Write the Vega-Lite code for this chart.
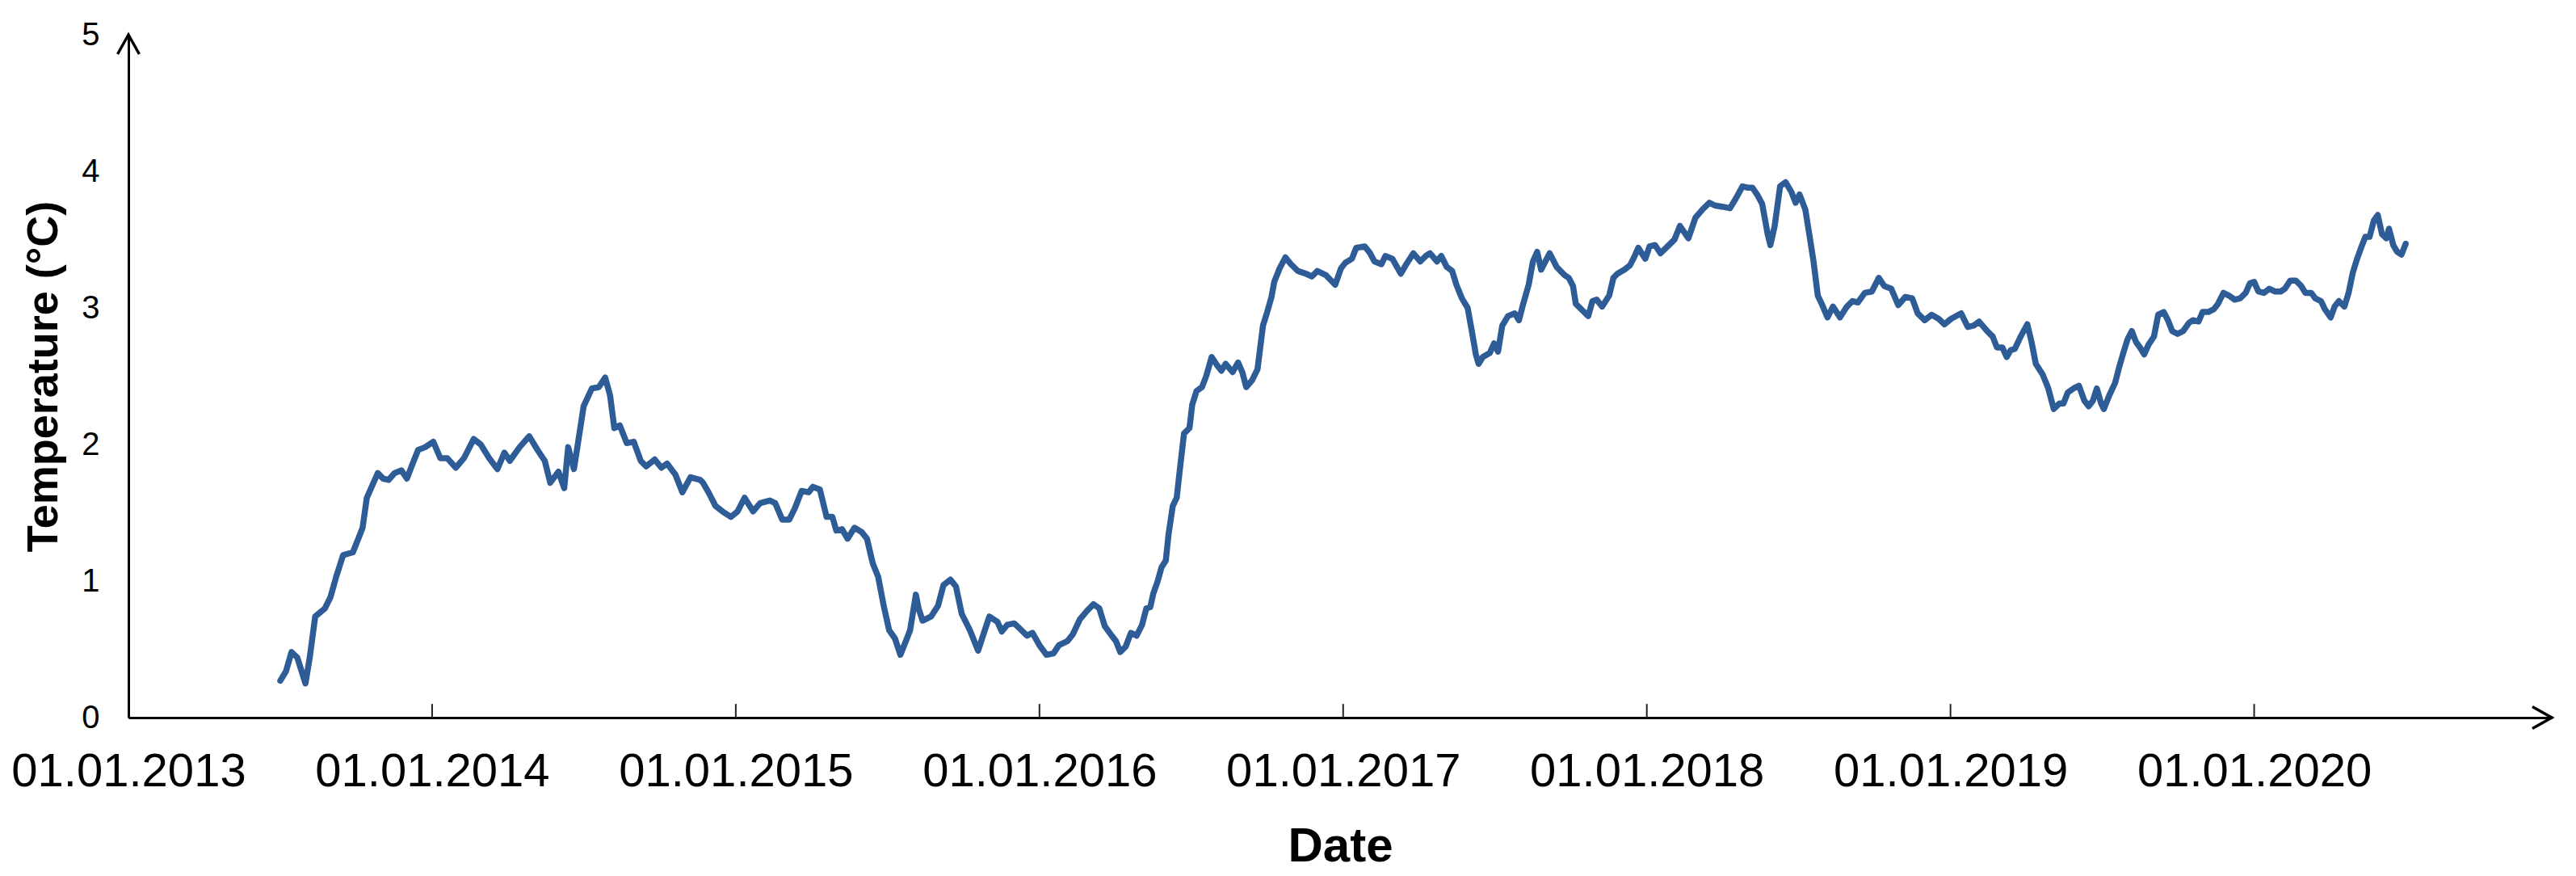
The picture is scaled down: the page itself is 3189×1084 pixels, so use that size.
{
  "$schema": "https://vega.github.io/schema/vega-lite/v6.json",
  "width": 3000,
  "height": 845,
  "autosize": {"type": "none"},
  "padding": {"left": 159, "top": 43, "right": 30, "bottom": 196},
  "background": "white",
  "config": {"view": {"stroke": null}, "font": "Liberation Sans"},
  "datasets": {
    "series": [
      {"decimal_year": 2013.500, "temp": 0.27}, {"decimal_year": 2013.519, "temp": 0.34}, {"decimal_year": 2013.537, "temp": 0.48}, {"decimal_year": 2013.556, "temp": 0.44},
      {"decimal_year": 2013.583, "temp": 0.25}, {"decimal_year": 2013.597, "temp": 0.44}, {"decimal_year": 2013.615, "temp": 0.74}, {"decimal_year": 2013.647, "temp": 0.80},
      {"decimal_year": 2013.665, "temp": 0.88}, {"decimal_year": 2013.684, "temp": 1.03}, {"decimal_year": 2013.707, "temp": 1.19}, {"decimal_year": 2013.739, "temp": 1.21},
      {"decimal_year": 2013.757, "temp": 1.31}, {"decimal_year": 2013.771, "temp": 1.39}, {"decimal_year": 2013.785, "temp": 1.61}, {"decimal_year": 2013.803, "temp": 1.70},
      {"decimal_year": 2013.821, "temp": 1.79}, {"decimal_year": 2013.839, "temp": 1.75}, {"decimal_year": 2013.857, "temp": 1.74}, {"decimal_year": 2013.876, "temp": 1.79},
      {"decimal_year": 2013.899, "temp": 1.81}, {"decimal_year": 2013.917, "temp": 1.75}, {"decimal_year": 2013.936, "temp": 1.86}, {"decimal_year": 2013.954, "temp": 1.96},
      {"decimal_year": 2013.977, "temp": 1.98}, {"decimal_year": 2014.004, "temp": 2.02}, {"decimal_year": 2014.027, "temp": 1.90}, {"decimal_year": 2014.050, "temp": 1.90},
      {"decimal_year": 2014.078, "temp": 1.83}, {"decimal_year": 2014.105, "temp": 1.90}, {"decimal_year": 2014.137, "temp": 2.04}, {"decimal_year": 2014.160, "temp": 2.00},
      {"decimal_year": 2014.188, "temp": 1.90}, {"decimal_year": 2014.215, "temp": 1.82}, {"decimal_year": 2014.238, "temp": 1.94}, {"decimal_year": 2014.256, "temp": 1.88},
      {"decimal_year": 2014.288, "temp": 1.98}, {"decimal_year": 2014.320, "temp": 2.06}, {"decimal_year": 2014.347, "temp": 1.96}, {"decimal_year": 2014.371, "temp": 1.88},
      {"decimal_year": 2014.389, "temp": 1.72}, {"decimal_year": 2014.416, "temp": 1.80}, {"decimal_year": 2014.435, "temp": 1.68}, {"decimal_year": 2014.448, "temp": 1.98},
      {"decimal_year": 2014.467, "temp": 1.82}, {"decimal_year": 2014.481, "temp": 2.02}, {"decimal_year": 2014.499, "temp": 2.28}, {"decimal_year": 2014.526, "temp": 2.41},
      {"decimal_year": 2014.549, "temp": 2.42}, {"decimal_year": 2014.570, "temp": 2.49}, {"decimal_year": 2014.586, "temp": 2.36}, {"decimal_year": 2014.600, "temp": 2.12},
      {"decimal_year": 2014.618, "temp": 2.14}, {"decimal_year": 2014.641, "temp": 2.01}, {"decimal_year": 2014.664, "temp": 2.02}, {"decimal_year": 2014.687, "temp": 1.88},
      {"decimal_year": 2014.705, "temp": 1.84}, {"decimal_year": 2014.733, "temp": 1.89}, {"decimal_year": 2014.755, "temp": 1.83}, {"decimal_year": 2014.774, "temp": 1.86},
      {"decimal_year": 2014.801, "temp": 1.78}, {"decimal_year": 2014.824, "temp": 1.65}, {"decimal_year": 2014.851, "temp": 1.76}, {"decimal_year": 2014.883, "temp": 1.74},
      {"decimal_year": 2014.892, "temp": 1.72}, {"decimal_year": 2014.910, "temp": 1.65}, {"decimal_year": 2014.933, "temp": 1.55}, {"decimal_year": 2014.956, "temp": 1.51},
      {"decimal_year": 2014.984, "temp": 1.47}, {"decimal_year": 2015.006, "temp": 1.51}, {"decimal_year": 2015.029, "temp": 1.61}, {"decimal_year": 2015.057, "temp": 1.51},
      {"decimal_year": 2015.080, "temp": 1.57}, {"decimal_year": 2015.112, "temp": 1.59}, {"decimal_year": 2015.130, "temp": 1.57}, {"decimal_year": 2015.153, "temp": 1.45},
      {"decimal_year": 2015.176, "temp": 1.45}, {"decimal_year": 2015.194, "temp": 1.53}, {"decimal_year": 2015.217, "temp": 1.66}, {"decimal_year": 2015.240, "temp": 1.65},
      {"decimal_year": 2015.254, "temp": 1.69}, {"decimal_year": 2015.277, "temp": 1.67}, {"decimal_year": 2015.299, "temp": 1.47}, {"decimal_year": 2015.318, "temp": 1.47},
      {"decimal_year": 2015.331, "temp": 1.37}, {"decimal_year": 2015.350, "temp": 1.38}, {"decimal_year": 2015.368, "temp": 1.31}, {"decimal_year": 2015.391, "temp": 1.39},
      {"decimal_year": 2015.414, "temp": 1.36}, {"decimal_year": 2015.432, "temp": 1.31}, {"decimal_year": 2015.451, "temp": 1.13}, {"decimal_year": 2015.469, "temp": 1.03},
      {"decimal_year": 2015.487, "temp": 0.82}, {"decimal_year": 2015.505, "temp": 0.64}, {"decimal_year": 2015.524, "temp": 0.58}, {"decimal_year": 2015.542, "temp": 0.46},
      {"decimal_year": 2015.560, "temp": 0.56}, {"decimal_year": 2015.574, "temp": 0.64}, {"decimal_year": 2015.593, "temp": 0.90}, {"decimal_year": 2015.602, "temp": 0.80},
      {"decimal_year": 2015.615, "temp": 0.71}, {"decimal_year": 2015.643, "temp": 0.74}, {"decimal_year": 2015.666, "temp": 0.82}, {"decimal_year": 2015.684, "temp": 0.97},
      {"decimal_year": 2015.707, "temp": 1.01}, {"decimal_year": 2015.725, "temp": 0.96}, {"decimal_year": 2015.744, "temp": 0.76}, {"decimal_year": 2015.771, "temp": 0.64},
      {"decimal_year": 2015.798, "temp": 0.49}, {"decimal_year": 2015.817, "temp": 0.62}, {"decimal_year": 2015.835, "temp": 0.74}, {"decimal_year": 2015.862, "temp": 0.70},
      {"decimal_year": 2015.876, "temp": 0.63}, {"decimal_year": 2015.894, "temp": 0.68}, {"decimal_year": 2015.917, "temp": 0.69}, {"decimal_year": 2015.936, "temp": 0.65},
      {"decimal_year": 2015.959, "temp": 0.60}, {"decimal_year": 2015.977, "temp": 0.62}, {"decimal_year": 2016.000, "temp": 0.53}, {"decimal_year": 2016.023, "temp": 0.46},
      {"decimal_year": 2016.046, "temp": 0.47}, {"decimal_year": 2016.064, "temp": 0.53}, {"decimal_year": 2016.092, "temp": 0.56}, {"decimal_year": 2016.110, "temp": 0.61},
      {"decimal_year": 2016.133, "temp": 0.72}, {"decimal_year": 2016.156, "temp": 0.78}, {"decimal_year": 2016.178, "temp": 0.83}, {"decimal_year": 2016.197, "temp": 0.80},
      {"decimal_year": 2016.215, "temp": 0.67}, {"decimal_year": 2016.238, "temp": 0.60}, {"decimal_year": 2016.252, "temp": 0.56}, {"decimal_year": 2016.266, "temp": 0.48},
      {"decimal_year": 2016.284, "temp": 0.52}, {"decimal_year": 2016.301, "temp": 0.62}, {"decimal_year": 2016.320, "temp": 0.60}, {"decimal_year": 2016.338, "temp": 0.68},
      {"decimal_year": 2016.352, "temp": 0.80}, {"decimal_year": 2016.365, "temp": 0.81}, {"decimal_year": 2016.375, "temp": 0.91}, {"decimal_year": 2016.388, "temp": 0.99},
      {"decimal_year": 2016.402, "temp": 1.10}, {"decimal_year": 2016.416, "temp": 1.15}, {"decimal_year": 2016.425, "temp": 1.34}, {"decimal_year": 2016.439, "temp": 1.55},
      {"decimal_year": 2016.452, "temp": 1.61}, {"decimal_year": 2016.462, "temp": 1.81}, {"decimal_year": 2016.476, "temp": 2.08}, {"decimal_year": 2016.494, "temp": 2.12},
      {"decimal_year": 2016.503, "temp": 2.29}, {"decimal_year": 2016.517, "temp": 2.39}, {"decimal_year": 2016.535, "temp": 2.42}, {"decimal_year": 2016.549, "temp": 2.50},
      {"decimal_year": 2016.567, "temp": 2.64}, {"decimal_year": 2016.585, "temp": 2.58}, {"decimal_year": 2016.599, "temp": 2.54}, {"decimal_year": 2016.613, "temp": 2.59},
      {"decimal_year": 2016.636, "temp": 2.53}, {"decimal_year": 2016.654, "temp": 2.60}, {"decimal_year": 2016.668, "temp": 2.53}, {"decimal_year": 2016.681, "temp": 2.42},
      {"decimal_year": 2016.700, "temp": 2.47}, {"decimal_year": 2016.718, "temp": 2.55}, {"decimal_year": 2016.727, "temp": 2.71}, {"decimal_year": 2016.736, "temp": 2.87},
      {"decimal_year": 2016.750, "temp": 2.97}, {"decimal_year": 2016.764, "temp": 3.08}, {"decimal_year": 2016.773, "temp": 3.19}, {"decimal_year": 2016.791, "temp": 3.29},
      {"decimal_year": 2016.810, "temp": 3.37}, {"decimal_year": 2016.828, "temp": 3.32}, {"decimal_year": 2016.851, "temp": 3.27}, {"decimal_year": 2016.878, "temp": 3.25},
      {"decimal_year": 2016.897, "temp": 3.23}, {"decimal_year": 2016.915, "temp": 3.27}, {"decimal_year": 2016.943, "temp": 3.24}, {"decimal_year": 2016.974, "temp": 3.17},
      {"decimal_year": 2016.993, "temp": 3.29}, {"decimal_year": 2017.007, "temp": 3.33}, {"decimal_year": 2017.029, "temp": 3.36}, {"decimal_year": 2017.043, "temp": 3.44},
      {"decimal_year": 2017.071, "temp": 3.45}, {"decimal_year": 2017.089, "temp": 3.40}, {"decimal_year": 2017.103, "temp": 3.34}, {"decimal_year": 2017.126, "temp": 3.32},
      {"decimal_year": 2017.139, "temp": 3.38}, {"decimal_year": 2017.162, "temp": 3.36}, {"decimal_year": 2017.190, "temp": 3.25}, {"decimal_year": 2017.208, "temp": 3.32},
      {"decimal_year": 2017.231, "temp": 3.40}, {"decimal_year": 2017.254, "temp": 3.34}, {"decimal_year": 2017.272, "temp": 3.38}, {"decimal_year": 2017.286, "temp": 3.40},
      {"decimal_year": 2017.309, "temp": 3.34}, {"decimal_year": 2017.323, "temp": 3.38}, {"decimal_year": 2017.341, "temp": 3.30}, {"decimal_year": 2017.359, "temp": 3.27},
      {"decimal_year": 2017.373, "temp": 3.17}, {"decimal_year": 2017.391, "temp": 3.07}, {"decimal_year": 2017.410, "temp": 3.00}, {"decimal_year": 2017.423, "temp": 2.84},
      {"decimal_year": 2017.437, "temp": 2.66}, {"decimal_year": 2017.446, "temp": 2.59}, {"decimal_year": 2017.460, "temp": 2.64}, {"decimal_year": 2017.483, "temp": 2.67},
      {"decimal_year": 2017.497, "temp": 2.74}, {"decimal_year": 2017.510, "temp": 2.68}, {"decimal_year": 2017.524, "temp": 2.87}, {"decimal_year": 2017.543, "temp": 2.94},
      {"decimal_year": 2017.565, "temp": 2.96}, {"decimal_year": 2017.579, "temp": 2.91}, {"decimal_year": 2017.593, "temp": 3.03}, {"decimal_year": 2017.611, "temp": 3.17},
      {"decimal_year": 2017.625, "temp": 3.34}, {"decimal_year": 2017.639, "temp": 3.41}, {"decimal_year": 2017.652, "temp": 3.28}, {"decimal_year": 2017.666, "temp": 3.34},
      {"decimal_year": 2017.680, "temp": 3.40}, {"decimal_year": 2017.703, "temp": 3.30}, {"decimal_year": 2017.729, "temp": 3.24}, {"decimal_year": 2017.743, "temp": 3.22},
      {"decimal_year": 2017.757, "temp": 3.16}, {"decimal_year": 2017.766, "temp": 3.03}, {"decimal_year": 2017.784, "temp": 2.99}, {"decimal_year": 2017.807, "temp": 2.94},
      {"decimal_year": 2017.821, "temp": 3.05}, {"decimal_year": 2017.835, "temp": 3.06}, {"decimal_year": 2017.853, "temp": 3.01}, {"decimal_year": 2017.876, "temp": 3.09},
      {"decimal_year": 2017.890, "temp": 3.22}, {"decimal_year": 2017.903, "temp": 3.25}, {"decimal_year": 2017.926, "temp": 3.28}, {"decimal_year": 2017.944, "temp": 3.31},
      {"decimal_year": 2017.958, "temp": 3.37}, {"decimal_year": 2017.972, "temp": 3.44}, {"decimal_year": 2017.995, "temp": 3.36}, {"decimal_year": 2018.009, "temp": 3.45},
      {"decimal_year": 2018.027, "temp": 3.46}, {"decimal_year": 2018.045, "temp": 3.40}, {"decimal_year": 2018.068, "temp": 3.45}, {"decimal_year": 2018.091, "temp": 3.50},
      {"decimal_year": 2018.109, "temp": 3.60}, {"decimal_year": 2018.137, "temp": 3.51}, {"decimal_year": 2018.160, "temp": 3.66}, {"decimal_year": 2018.183, "temp": 3.72},
      {"decimal_year": 2018.206, "temp": 3.77}, {"decimal_year": 2018.224, "temp": 3.75}, {"decimal_year": 2018.251, "temp": 3.74}, {"decimal_year": 2018.274, "temp": 3.73},
      {"decimal_year": 2018.293, "temp": 3.80}, {"decimal_year": 2018.315, "temp": 3.89}, {"decimal_year": 2018.334, "temp": 3.88}, {"decimal_year": 2018.348, "temp": 3.88},
      {"decimal_year": 2018.366, "temp": 3.82}, {"decimal_year": 2018.380, "temp": 3.76}, {"decimal_year": 2018.398, "temp": 3.54}, {"decimal_year": 2018.407, "temp": 3.46},
      {"decimal_year": 2018.421, "temp": 3.60}, {"decimal_year": 2018.439, "temp": 3.89}, {"decimal_year": 2018.457, "temp": 3.92}, {"decimal_year": 2018.476, "temp": 3.85},
      {"decimal_year": 2018.490, "temp": 3.77}, {"decimal_year": 2018.503, "temp": 3.83}, {"decimal_year": 2018.522, "temp": 3.72}, {"decimal_year": 2018.535, "temp": 3.54},
      {"decimal_year": 2018.549, "temp": 3.34}, {"decimal_year": 2018.563, "temp": 3.09}, {"decimal_year": 2018.576, "temp": 3.03}, {"decimal_year": 2018.595, "temp": 2.93},
      {"decimal_year": 2018.613, "temp": 3.01}, {"decimal_year": 2018.636, "temp": 2.93}, {"decimal_year": 2018.659, "temp": 3.01}, {"decimal_year": 2018.677, "temp": 3.05},
      {"decimal_year": 2018.695, "temp": 3.04}, {"decimal_year": 2018.718, "temp": 3.11}, {"decimal_year": 2018.741, "temp": 3.12}, {"decimal_year": 2018.764, "temp": 3.22},
      {"decimal_year": 2018.782, "temp": 3.16}, {"decimal_year": 2018.805, "temp": 3.14}, {"decimal_year": 2018.828, "temp": 3.02}, {"decimal_year": 2018.851, "temp": 3.08},
      {"decimal_year": 2018.874, "temp": 3.07}, {"decimal_year": 2018.892, "temp": 2.96}, {"decimal_year": 2018.915, "temp": 2.91}, {"decimal_year": 2018.938, "temp": 2.95},
      {"decimal_year": 2018.961, "temp": 2.92}, {"decimal_year": 2018.980, "temp": 2.88}, {"decimal_year": 2019.002, "temp": 2.92}, {"decimal_year": 2019.035, "temp": 2.96},
      {"decimal_year": 2019.057, "temp": 2.86}, {"decimal_year": 2019.076, "temp": 2.87}, {"decimal_year": 2019.094, "temp": 2.90}, {"decimal_year": 2019.121, "temp": 2.83},
      {"decimal_year": 2019.139, "temp": 2.79}, {"decimal_year": 2019.153, "temp": 2.71}, {"decimal_year": 2019.171, "temp": 2.71}, {"decimal_year": 2019.185, "temp": 2.64},
      {"decimal_year": 2019.198, "temp": 2.69}, {"decimal_year": 2019.212, "temp": 2.70}, {"decimal_year": 2019.231, "temp": 2.79}, {"decimal_year": 2019.253, "temp": 2.88},
      {"decimal_year": 2019.267, "temp": 2.75}, {"decimal_year": 2019.281, "temp": 2.59}, {"decimal_year": 2019.304, "temp": 2.51}, {"decimal_year": 2019.322, "temp": 2.41},
      {"decimal_year": 2019.340, "temp": 2.26}, {"decimal_year": 2019.359, "temp": 2.30}, {"decimal_year": 2019.372, "temp": 2.30}, {"decimal_year": 2019.386, "temp": 2.38},
      {"decimal_year": 2019.405, "temp": 2.41}, {"decimal_year": 2019.423, "temp": 2.43}, {"decimal_year": 2019.441, "temp": 2.32}, {"decimal_year": 2019.455, "temp": 2.28},
      {"decimal_year": 2019.469, "temp": 2.32}, {"decimal_year": 2019.482, "temp": 2.41}, {"decimal_year": 2019.496, "temp": 2.30}, {"decimal_year": 2019.505, "temp": 2.26},
      {"decimal_year": 2019.523, "temp": 2.36}, {"decimal_year": 2019.542, "temp": 2.45}, {"decimal_year": 2019.556, "temp": 2.57}, {"decimal_year": 2019.569, "temp": 2.67},
      {"decimal_year": 2019.583, "temp": 2.77}, {"decimal_year": 2019.597, "temp": 2.83}, {"decimal_year": 2019.611, "temp": 2.75}, {"decimal_year": 2019.624, "temp": 2.71},
      {"decimal_year": 2019.638, "temp": 2.66}, {"decimal_year": 2019.652, "temp": 2.73}, {"decimal_year": 2019.670, "temp": 2.79}, {"decimal_year": 2019.684, "temp": 2.95},
      {"decimal_year": 2019.702, "temp": 2.97}, {"decimal_year": 2019.716, "temp": 2.91}, {"decimal_year": 2019.730, "temp": 2.83}, {"decimal_year": 2019.748, "temp": 2.81},
      {"decimal_year": 2019.766, "temp": 2.83}, {"decimal_year": 2019.785, "temp": 2.89}, {"decimal_year": 2019.798, "temp": 2.91}, {"decimal_year": 2019.817, "temp": 2.90},
      {"decimal_year": 2019.830, "temp": 2.97}, {"decimal_year": 2019.849, "temp": 2.97}, {"decimal_year": 2019.867, "temp": 2.99}, {"decimal_year": 2019.881, "temp": 3.03},
      {"decimal_year": 2019.899, "temp": 3.11}, {"decimal_year": 2019.917, "temp": 3.09}, {"decimal_year": 2019.936, "temp": 3.06}, {"decimal_year": 2019.954, "temp": 3.07},
      {"decimal_year": 2019.972, "temp": 3.11}, {"decimal_year": 2019.986, "temp": 3.18}, {"decimal_year": 2020.000, "temp": 3.19}, {"decimal_year": 2020.014, "temp": 3.12},
      {"decimal_year": 2020.032, "temp": 3.11}, {"decimal_year": 2020.050, "temp": 3.14}, {"decimal_year": 2020.068, "temp": 3.12}, {"decimal_year": 2020.087, "temp": 3.12},
      {"decimal_year": 2020.101, "temp": 3.14}, {"decimal_year": 2020.119, "temp": 3.20}, {"decimal_year": 2020.137, "temp": 3.20}, {"decimal_year": 2020.155, "temp": 3.16},
      {"decimal_year": 2020.169, "temp": 3.11}, {"decimal_year": 2020.188, "temp": 3.11}, {"decimal_year": 2020.201, "temp": 3.07}, {"decimal_year": 2020.220, "temp": 3.05},
      {"decimal_year": 2020.233, "temp": 2.99}, {"decimal_year": 2020.252, "temp": 2.93}, {"decimal_year": 2020.265, "temp": 3.01}, {"decimal_year": 2020.279, "temp": 3.05},
      {"decimal_year": 2020.297, "temp": 3.01}, {"decimal_year": 2020.311, "temp": 3.11}, {"decimal_year": 2020.325, "temp": 3.26}, {"decimal_year": 2020.339, "temp": 3.36},
      {"decimal_year": 2020.352, "temp": 3.44}, {"decimal_year": 2020.366, "temp": 3.52}, {"decimal_year": 2020.380, "temp": 3.52}, {"decimal_year": 2020.394, "temp": 3.64},
      {"decimal_year": 2020.407, "temp": 3.68}, {"decimal_year": 2020.421, "temp": 3.54}, {"decimal_year": 2020.435, "temp": 3.51}, {"decimal_year": 2020.444, "temp": 3.58},
      {"decimal_year": 2020.458, "temp": 3.46}, {"decimal_year": 2020.471, "temp": 3.41}, {"decimal_year": 2020.485, "temp": 3.39}, {"decimal_year": 2020.499, "temp": 3.47}
    ],
    "arrows": [
      {"decimal_year": 2013.0, "temp": 5.0, "dir": "up"},
      {"decimal_year": 2020.98, "temp": 0.0, "dir": "right"}
    ],
    "year_ticks": [
      {"decimal_year": 2014}, {"decimal_year": 2015}, {"decimal_year": 2016}, {"decimal_year": 2017},
      {"decimal_year": 2018}, {"decimal_year": 2019}, {"decimal_year": 2020}
    ]
  },
  "layer": [
    {
      "data": {"name": "year_ticks"},
      "mark": {"type": "rule", "color": "#222", "strokeWidth": 2},
      "encoding": {
        "x": {"field": "decimal_year", "type": "quantitative"},
        "y": {"datum": 0},
        "y2": {"datum": 0.1}
      }
    },
    {
      "data": {"name": "series"},
      "mark": {"type": "line", "color": "#2E5C97", "strokeWidth": 7.5, "strokeJoin": "round", "strokeCap": "round"},
      "encoding": {
        "x": {
          "field": "decimal_year", "type": "quantitative",
          "scale": {"domain": [2013, 2020.98], "nice": false, "zero": false},
          "axis": {
            "values": [2013, 2014, 2015, 2016, 2017, 2018, 2019, 2020],
            "labelExpr": "'01.01.' + datum.value",
            "labelFontSize": 58, "labelColor": "black", "labelFont": "Liberation Sans",
            "labelPadding": 38, "labelFlush": false, "labelOverlap": false, "labelLimit": 0,
            "ticks": false,
            "domainColor": "black", "domainWidth": 3,
            "grid": false,
            "title": "Date", "titleFontSize": 60, "titleFontWeight": "bold", "titleColor": "black",
            "titleFont": "Liberation Sans", "titlePadding": 34
          }
        },
        "y": {
          "field": "temp", "type": "quantitative",
          "scale": {"domain": [0, 5], "nice": false},
          "axis": {
            "values": [0, 1, 2, 3, 4, 5],
            "format": "d",
            "labelFontSize": 40, "labelColor": "black", "labelFont": "Liberation Sans",
            "labelPadding": 36, "ticks": false,
            "domainColor": "black", "domainWidth": 3,
            "grid": false,
            "title": "Temperature (°C)", "titleFontSize": 54, "titleFontWeight": "bold", "titleColor": "black",
            "titleFont": "Liberation Sans", "titlePadding": 19
          }
        }
      }
    },
    {
      "data": {"name": "arrows"},
      "transform": [{"filter": "datum.dir === 'up'"}],
      "mark": {"type": "point", "shape": "M-0.56,1L0,0L0.56,1", "filled": false, "stroke": "black", "strokeWidth": 3.5, "size": 2304, "opacity": 1},
      "encoding": {
        "x": {"field": "decimal_year", "type": "quantitative"},
        "y": {"field": "temp", "type": "quantitative"}
      }
    },
    {
      "data": {"name": "arrows"},
      "transform": [{"filter": "datum.dir === 'right'"}],
      "mark": {"type": "point", "shape": "M-1,-0.56L0,0L-1,0.56", "filled": false, "stroke": "black", "strokeWidth": 3.5, "size": 2304, "opacity": 1},
      "encoding": {
        "x": {"field": "decimal_year", "type": "quantitative"},
        "y": {"field": "temp", "type": "quantitative"}
      }
    }
  ]
}
